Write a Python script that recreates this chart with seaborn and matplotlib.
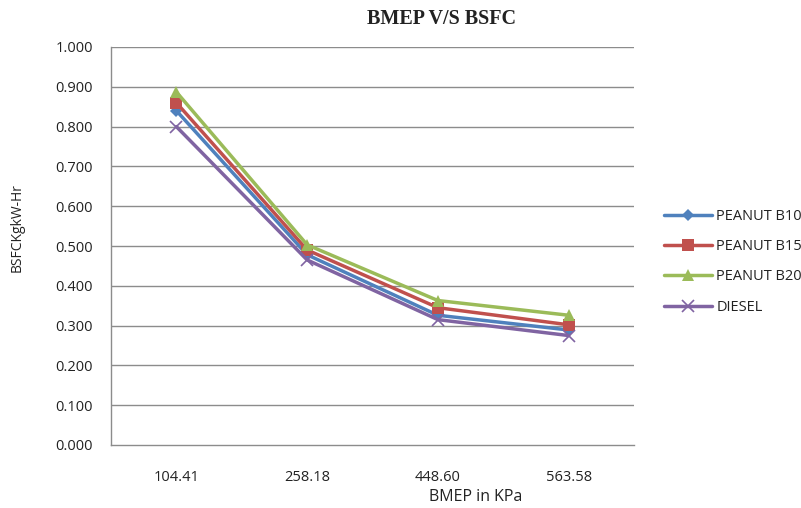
import numpy as np
import pandas as pd
import matplotlib
matplotlib.use("Agg")
import matplotlib.pyplot as plt
import seaborn as sns
from matplotlib.ticker import FixedLocator, FormatStrFormatter

# BMEP load points (kPa) and brake specific fuel consumption (kg/kW-hr)
bmep_labels = ["104.41", "258.18", "448.60", "563.58"]
peanut_b10 = [0.840, 0.478, 0.326, 0.289]
peanut_b15 = [0.860, 0.490, 0.345, 0.302]
peanut_b20 = [0.887, 0.503, 0.363, 0.326]
diesel = [0.800, 0.465, 0.315, 0.275]

series_names = ["PEANUT B10", "PEANUT B15", "PEANUT B20", "DIESEL"]
series_values = [peanut_b10, peanut_b15, peanut_b20, diesel]

rows = []
for name, vals in zip(series_names, series_values):
    for i, (lab, v) in enumerate(zip(bmep_labels, vals)):
        rows.append({"pos": i, "BMEP": lab, "BSFC": v, "Fuel": name})
df = pd.DataFrame(rows)

sns.set_theme(style="white")
plt.rcParams["font.family"] = ["Open Sans", "DejaVu Sans"]

palette = {"PEANUT B10": "#4F81BD", "PEANUT B15": "#C0504D",
           "PEANUT B20": "#9BBB59", "DIESEL": "#8064A2"}
markers = {"PEANUT B10": "D", "PEANUT B15": "s", "PEANUT B20": "^", "DIESEL": "x"}
msizes = {"PEANUT B10": 6, "PEANUT B15": 8, "PEANUT B20": 9, "DIESEL": 9}

fig = plt.figure(figsize=(8.01, 5.08), dpi=100)
ax = fig.add_axes([111 / 801, 1 - 445 / 508, (634 - 111) / 801, (445 - 47) / 508])

grid_color = "#8c8c8c"
for y in np.arange(0.1, 1.01, 0.1):
    ax.axhline(y, color=grid_color, lw=1.0, zorder=0)

for name in series_names:
    sub = df[df["Fuel"] == name]
    sns.lineplot(data=sub, x="pos", y="BSFC", ax=ax, color=palette[name],
                 lw=2.5, marker=markers[name], markersize=msizes[name],
                 markeredgewidth=1.2 if name == "DIESEL" else 0,
                 markeredgecolor=palette[name], label=name, zorder=3,
                 legend=False)

ax.set_xlim(-0.5, 3.5)
ax.set_ylim(0, 1.0)
ax.set_yticks(np.arange(0, 1.01, 0.1))
ax.yaxis.set_major_formatter(FormatStrFormatter("%.3f"))

# category labels at centres, tick marks at category boundaries
ax.set_xticks(range(len(bmep_labels)))
ax.set_xticklabels(bmep_labels)
ax.xaxis.set_minor_locator(FixedLocator(np.arange(-0.5, 3.51, 1.0)))
ax.tick_params(axis="x", which="major", length=0, pad=18, labelsize=10.5, labelcolor="#222222")
ax.tick_params(axis="x", which="minor", length=5, width=1, color=grid_color, direction="out")
ax.tick_params(axis="y", which="major", length=5, width=1, color=grid_color, direction="out",
               pad=8, labelsize=10.5, labelcolor="#222222")

for s in ["top", "right"]:
    ax.spines[s].set_visible(False)
for s in ["left", "bottom"]:
    ax.spines[s].set_color(grid_color)
    ax.spines[s].set_linewidth(1)

ax.set_xlabel("")
ax.set_ylabel("")
fig.text(476 / 801, 1 - 497 / 508, "BMEP in KPa", ha="center", va="center",
         fontsize=11.5, color="#222222")
fig.text(17 / 801, 1 - 228 / 508, "BSFCKgkW-Hr", ha="center", va="center",
         rotation=90, fontsize=10, color="#222222")
fig.text(442 / 801, 1 - 19 / 508, "BMEP V/S BSFC", ha="center", va="center",
         fontsize=14.5, fontweight="bold", family="Liberation Serif", color="#222222")

handles, labels = ax.get_legend_handles_labels()
fig.legend(handles, labels, loc="upper left", bbox_to_anchor=(658 / 801, 1 - 203 / 508),
           frameon=False, fontsize=10.5, handlelength=3.3, handletextpad=0.3,
           labelspacing=1.05, borderaxespad=0, labelcolor="#222222")

fig.savefig("out.png", dpi=100)
